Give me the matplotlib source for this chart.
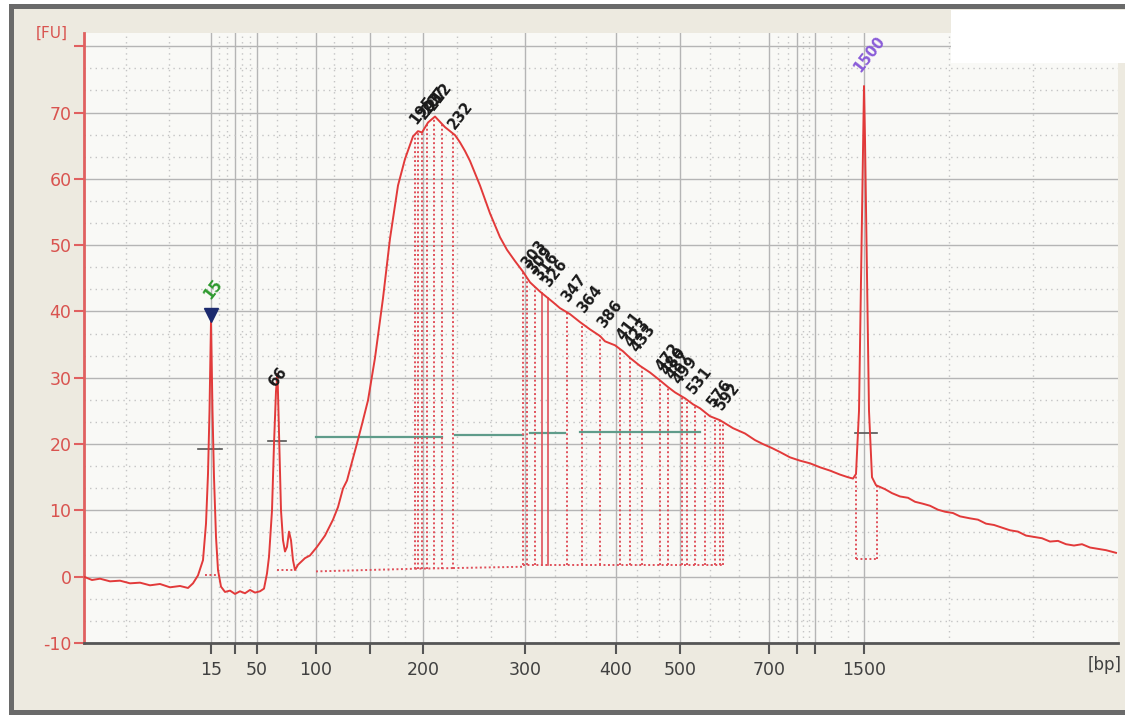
import numpy as np
import matplotlib.pyplot as plt
from matplotlib.patches import Rectangle

# electropherogram trace: migration time (s) vs fluorescence (FU)
trace_t = [38.4, 39.2, 40.0, 41.0, 42.0, 43.0, 44.0, 45.0, 46.0, 47.0, 48.0, 48.8, 49.3, 49.8,
           50.3, 50.6, 50.8, 50.95, 51.1, 51.25, 51.4, 51.6, 51.8, 52.1, 52.5, 53.0, 53.5,
           54.0, 54.5, 55.0, 55.5, 56.0, 56.4, 56.7, 56.9, 57.2, 57.4, 57.6, 57.75, 57.9,
           58.1, 58.3, 58.5, 58.7, 58.9, 59.1, 59.3, 59.5, 59.8, 60.5, 61.0, 61.7, 62.5,
           63.3, 63.8, 64.3, 64.7, 65.0, 65.7, 66.2, 66.8, 67.5, 68.3, 69.0, 69.8, 70.5,
           71.3, 71.8, 72.2, 72.8, 73.5, 74.0, 74.5, 75.0, 75.5, 76.0, 76.5, 77.0, 78.0,
           79.0, 80.0, 80.7, 81.5, 82.3, 83.0, 84.0, 85.3, 86.0, 87.0, 88.0, 89.0, 90.0,
           90.5, 91.5, 92.3, 93.0, 94.0, 95.0, 96.0, 96.8, 97.5, 98.5, 99.3, 100.0, 101.0,
           102.0, 103.3, 104.5, 105.5, 106.3, 107.2, 108.0, 109.0, 110.0, 111.0, 112.0,
           113.0, 114.0, 114.8, 115.3, 115.6, 115.9, 116.1, 116.3, 116.4, 116.5, 116.7,
           116.9, 117.2, 117.6, 118.5, 119.2, 120.0, 120.8, 121.5, 122.3, 123.0, 123.8,
           124.5, 125.3, 126.0, 127.0, 127.8, 128.6, 129.4, 130.2, 131.0, 131.8, 132.6,
           133.4, 134.2, 135.0, 135.8, 136.6, 137.4, 138.2, 139.0, 139.8, 140.6, 141.6]
trace_fu = [0.0, -0.5, -0.3, -0.7, -0.6, -1.0, -0.9, -1.3, -1.1, -1.6, -1.4, -1.7, -1.0, 0.2,
            2.5, 8.0, 15.5, 25.0, 38.5, 25.0, 15.0, 6.0, 1.0, -1.5, -2.3, -2.1, -2.6,
            -2.2, -2.5, -2.0, -2.4, -2.2, -1.8, 0.5, 3.0, 10.0, 20.0, 28.0, 30.6, 22.0,
            10.0, 5.5, 3.8, 4.5, 6.8, 5.5, 2.5, 1.0, 1.8, 2.8, 3.2, 4.5, 6.2,
            8.6, 10.5, 13.3, 14.5, 16.2, 20.1, 23.0, 26.6, 33.0, 42.0, 51.0, 59.0, 63.0,
            66.4, 67.2, 67.0, 68.5, 69.4, 68.6, 67.8, 67.2, 66.6, 65.5, 64.2, 62.7, 59.0,
            54.8, 51.2, 49.3, 47.6, 46.0, 44.4, 43.0, 41.4, 40.5, 39.6, 38.4, 37.3, 36.3,
            35.5, 34.9, 34.0, 33.0, 31.8, 30.8, 29.6, 28.6, 27.8, 26.9, 26.0, 25.4, 24.2,
            23.6, 22.4, 21.6, 20.6, 20.0, 19.4, 18.8, 18.0, 17.5, 17.1, 16.5,
            16.0, 15.4, 15.0, 14.8, 15.5, 25.0, 45.0, 66.0, 74.0, 66.0, 45.0,
            25.0, 15.0, 13.8, 13.2, 12.6, 12.1, 11.9, 11.3, 11.0, 10.7, 10.1,
            9.8, 9.6, 9.1, 8.8, 8.6, 8.0, 7.8, 7.4, 7.0, 6.8, 6.2,
            6.0, 5.8, 5.3, 5.4, 4.9, 4.7, 4.9, 4.4, 4.2, 4.0, 3.6]

# ladder (bp) and its migration times
ladder_bp = [15, 25, 50, 100, 150, 200, 300, 400, 500, 700, 850, 1000, 1500]
ladder_t = [51.1, 53.5, 55.7, 61.6, 67.0, 72.3, 82.5, 91.6, 98.0, 106.9, 109.7, 111.5, 116.4]
shown_bp = [15, 50, 100, 200, 300, 400, 500, 700, 1500]

# called peaks (bp)
peak_bp = [66, 195, 203, 207, 212, 232, 303, 309, 316, 326, 347, 364, 386, 411, 423, 433,
           472, 480, 487, 499, 531, 576, 592]
lower_marker = 15
upper_marker = 1500

# peak borders (s) and their baselines (FU)
border_t1 = [71.5, 71.8, 72.2, 72.7, 73.4, 74.2, 75.3]
border_t2 = [82.3, 82.7, 83.5, 86.7, 88.2, 90.0, 92.0, 93.0, 94.2, 96.0, 96.8, 98.2, 98.7,
             99.5, 100.5, 101.5, 102.0, 102.3]
border_solid = [84.2, 84.8]
border_marker = [115.6, 117.7]
baselines = [((61.6, 0.8), (71.5, 1.2)), ((71.5, 1.2), (75.3, 1.3)), ((75.3, 1.3), (82.3, 1.5)),
             ((82.3, 1.8), (102.3, 1.8)), ((115.6, 2.6), (117.7, 2.6)),
             ((50.5, 0.3), (51.6, 0.3)), ((57.7, 1.0), (59.4, 1.0))]

# region bars (start s, end s, FU)
region_bars = [(61.6, 74.2, 21.0), (75.5, 82.3, 21.3), (83.0, 86.5, 21.6), (88.0, 100.0, 21.8)]
marker_bars = [(49.8, 52.2, 19.3), (56.8, 58.6, 20.5), (115.5, 117.7, 21.7)]

W, H = 1125, 715
fig = plt.figure(figsize=(W / 100, H / 100), dpi=100, facecolor='white')
fig.patches.append(Rectangle((10.5 / W, 3.5 / H), 1.1, (709 - 3.5) / H, transform=fig.transFigure,
                             facecolor='#EDEAE0', edgecolor='#6A6A6A', lw=3.6, zorder=-5))
fig.patches.append(Rectangle((951 / W, 1 - 63 / H), 0.2, 53 / H, transform=fig.transFigure,
                             facecolor='white', edgecolor='none', zorder=5))

ax = fig.add_axes([84 / W, 72 / H, 1034 / W, 610 / H])
ax.set_facecolor('#F9F9F6')
x0, x1 = 38.4, 141.8
ax.set_xlim(x0, x1)
ax.set_ylim(-10, 82)

# grid
edges = [x0] + ladder_t + [x1]
minor_x = []
for a, b in zip(edges[:-1], edges[1:]):
    minor_x += [a + (b - a) / 3, a + 2 * (b - a) / 3]
minor_y = []
for v in range(-10, 81, 10):
    minor_y += [v + 10 / 3, v + 20 / 3]
for v in ladder_t:
    ax.axvline(v, color='#B5B5B5', lw=1.0, zorder=0)
for v in range(-10, 81, 10):
    ax.axhline(v, color='#B5B5B5', lw=1.0, zorder=0)
for v in minor_x:
    ax.axvline(v, color='#C4C4C4', lw=1.0, ls=(0, (1, 3)), zorder=0)
for v in minor_y:
    ax.axhline(v, color='#C4C4C4', lw=1.0, ls=(0, (1, 3)), zorder=0)

# region and marker bars
for a, b, v in region_bars:
    ax.plot([a, b], [v, v], color='#5F9C8A', lw=1.6, zorder=2)
for a, b, v in marker_bars:
    ax.plot([a, b], [v, v], color='#555555', lw=1.2, zorder=2)

# peak borders
dot = (0, (1, 1.3))
for (a, ya), (b, yb) in baselines:
    ax.plot([a, b], [ya, yb], color='#E0505A', lw=1.4, ls=dot, zorder=2)
for v in border_t1:
    ax.plot([v, v], [1.2, np.interp(v, trace_t, trace_fu)], color='#E0505A', lw=1.4, ls=dot, zorder=2)
for v in border_t2:
    ax.plot([v, v], [1.8, np.interp(v, trace_t, trace_fu)], color='#E0505A', lw=1.4, ls=dot, zorder=2)
for v in border_marker:
    ax.plot([v, v], [2.6, np.interp(v, trace_t, trace_fu)], color='#E0505A', lw=1.4, ls=dot, zorder=2)
for v in border_solid:
    ax.plot([v, v], [1.8, np.interp(v, trace_t, trace_fu)], color='#E0505A', lw=1.2, zorder=2)

ax.plot(trace_t, trace_fu, color='#E23A3A', lw=1.4, zorder=3)

# peak labels
for bp in peak_bp:
    t = np.interp(bp, ladder_bp, ladder_t)
    y = np.interp(t, trace_t, trace_fu)
    off = (1, 3) if bp < 300 else (2, 6)
    ax.annotate(str(bp), (t, y), xytext=off, textcoords='offset points', rotation=52,
                rotation_mode='anchor', ha='left', va='bottom', fontsize=10.5,
                fontweight='bold', color='#1A1A1A', zorder=4)

t15 = np.interp(lower_marker, ladder_bp, ladder_t)
ax.plot([t15], [39.5], marker='v', markersize=10, color='#1C2A6E', zorder=4)
ax.annotate(str(lower_marker), (t15, 41.5), xytext=(1, 0), textcoords='offset points', rotation=52,
            rotation_mode='anchor', ha='left', va='bottom', fontsize=10.5, fontweight='bold',
            color='#2E9A2E', zorder=4)
t1500 = np.interp(upper_marker, ladder_bp, ladder_t)
ax.annotate(str(upper_marker), (t1500, 74), xytext=(-1, 8), textcoords='offset points', rotation=52,
            rotation_mode='anchor', ha='left', va='bottom', fontsize=10.5, fontweight='bold',
            color='#8A5CD8', zorder=4)

# axes styling
for s in ['top', 'right']:
    ax.spines[s].set_visible(False)
ax.spines['left'].set_color('#E06060')
ax.spines['left'].set_linewidth(2)
ax.spines['bottom'].set_color('#555555')
ax.spines['bottom'].set_linewidth(2)

ax.set_yticks(range(-10, 81, 10))
ax.set_yticklabels([str(v) if v < 80 else '' for v in range(-10, 81, 10)])
ax.set_xticks(ladder_t)
ax.set_xticklabels([str(b) if b in shown_bp else '' for b in ladder_bp])
ax.tick_params(axis='y', colors='#E06060', length=7, width=1.5, labelsize=12.5, pad=2,
               labelcolor='#D9534F')
ax.tick_params(axis='x', colors='#555555', length=8, width=1.5, labelsize=12.5, pad=5,
               labelcolor='#404040')

fig.text(52 / W, 1 - 33 / H, '[FU]', color='#D9534F', fontsize=11, ha='center', va='center')
fig.text(1122 / W, 1 - 665 / H, '[bp]', color='#404040', fontsize=12, ha='right', va='center')

fig.savefig('out.png', dpi=100, facecolor=fig.get_facecolor())
